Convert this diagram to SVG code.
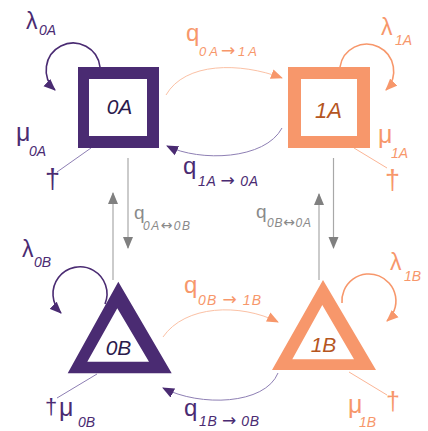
<svg xmlns="http://www.w3.org/2000/svg" width="428" height="431" viewBox="0 0 428 431">
<style>
text{font-family:"Liberation Sans",Arial,sans-serif}
.sub{font-style:italic}
.arr{font-family:"DejaVu Sans",sans-serif;font-style:normal;font-size:17px}
.arr2{font-family:"DejaVu Sans",sans-serif;font-style:normal;font-size:14px}
.node{font-style:italic;text-anchor:middle}
.pu{fill:#4a2b72}
.or{fill:#f7976b}
.gr{fill:#8a8a8a}
.loopP{fill:none;stroke:#4a2b72;stroke-width:1.6}
.loopO{fill:none;stroke:#f7976b;stroke-width:1.6}
.edgeP{fill:none;stroke:#8e7fb4;stroke-width:1}
.edgeO{fill:none;stroke:#fbc1a5;stroke-width:1}
.vert{fill:none;stroke:#a8a8a8;stroke-width:1.2}
.deathP{stroke:#8e7fb4;stroke-width:1}
.deathO{stroke:#fbb596;stroke-width:1}
</style>
<defs>
<marker id="aP" markerUnits="userSpaceOnUse" markerWidth="12" markerHeight="11" viewBox="0 0 12 10" refX="11" refY="5" orient="auto"><path d="M0,0 L12,5 L0,10 z" fill="#4a2b72"/></marker>
<marker id="aO" markerUnits="userSpaceOnUse" markerWidth="12" markerHeight="11" viewBox="0 0 12 10" refX="11" refY="5" orient="auto"><path d="M0,0 L12,5 L0,10 z" fill="#f7976b"/></marker>
<marker id="aG" markerUnits="userSpaceOnUse" markerWidth="12" markerHeight="11" viewBox="0 0 12 10" refX="11" refY="5" orient="auto"><path d="M0,0 L12,5 L0,10 z" fill="#808080"/></marker>
</defs>

<g id="connectors">
<path class="edgeO" d="M166,95 C185,62 240,62 282,78" marker-end="url(#aO)"/>
<path class="edgeP" d="M282,128 C265,160 200,162 167,146" marker-end="url(#aP)"/>
<path class="edgeO" d="M163,337 C185,305 240,303 278,322" marker-end="url(#aO)"/>
<path class="edgeP" d="M278,373 C265,405 200,407 163,388" marker-end="url(#aP)"/>
<path class="vert" d="M128,158 L128,248" marker-end="url(#aG)"/>
<path class="vert" d="M113,280 L113,193" marker-end="url(#aG)"/>
<path class="vert" d="M333.5,158 L333.5,248" marker-end="url(#aG)"/>
<path class="vert" d="M319,280 L319,194" marker-end="url(#aG)"/>
<path class="loopP" d="M100,67 A27,27 0 1,0 55,90" marker-end="url(#aP)"/>
<path class="loopO" d="M340,67 A27,27 0 1,1 386,90" marker-end="url(#aO)"/>
<path class="loopP" d="M105,304 A27,27 0 1,0 61,313" marker-end="url(#aP)"/>
<path class="loopO" d="M342,303 A27,27 0 1,1 387,321" marker-end="url(#aO)"/>
<line class="deathP" x1="91" y1="148" x2="57" y2="172"/>
<line class="deathO" x1="354" y1="148" x2="387" y2="168"/>
<line class="deathP" x1="97" y1="374" x2="57" y2="398"/>
<line class="deathO" x1="349" y1="372" x2="387" y2="395"/>
</g>

<g id="labels">
<text class="or" x="186" y="41" font-size="24">q</text>
<text class="or sub" x="199" y="56" font-size="13" textLength="58" lengthAdjust="spacing">0A<tspan class="arr">→</tspan>1A</text>
<text class="pu" x="183" y="174" font-size="24">q</text>
<text class="pu sub" x="198" y="186" font-size="14" textLength="60" lengthAdjust="spacing">1A <tspan class="arr">→</tspan> 0A</text>
<text class="or" x="184" y="293" font-size="24">q</text>
<text class="or sub" x="198" y="305" font-size="14" textLength="63" lengthAdjust="spacing">0B <tspan class="arr">→</tspan> 1B</text>
<text class="pu" x="184" y="416" font-size="24">q</text>
<text class="pu sub" x="199" y="426" font-size="14" textLength="60" lengthAdjust="spacing">1B <tspan class="arr">→</tspan> 0B</text>
<text class="gr" x="134" y="219" font-size="19">q</text>
<text class="gr sub" x="143" y="230" font-size="12" textLength="47" lengthAdjust="spacing">0A<tspan class="arr2">↔</tspan>0B</text>
<text class="gr" x="256" y="218" font-size="19">q</text>
<text class="gr sub" x="267" y="227" font-size="12" textLength="44" lengthAdjust="spacing">0B<tspan class="arr2">↔</tspan>0A</text>
</g>

<g id="node-0A">
<path class="pu" fill-rule="evenodd" d="M78,67 H159 V148 H78 Z M89,79 V136 H147 V79 Z"/>
<text class="node" x="119.5" y="114" font-size="21" fill="#2b1a4c">0A</text>
<text class="pu" x="26" y="29" font-size="23">λ</text>
<text class="pu sub" x="39" y="35" font-size="14">0A</text>
<text class="pu" x="16" y="141" font-size="25">μ</text>
<text class="pu sub" x="29" y="156" font-size="14">0A</text>
<text class="pu" x="45" y="188" font-size="27">†</text>
</g>

<g id="node-1A">
<path class="or" fill-rule="evenodd" d="M288,67 H370 V148 H288 Z M301,79 V136 H357 V79 Z"/>
<text class="node" x="328.5" y="118" font-size="22" fill="#b5561f">1A</text>
<text class="or" x="381" y="35" font-size="23">λ</text>
<text class="or sub" x="395" y="45" font-size="14">1A</text>
<text class="or" x="378" y="143" font-size="25">μ</text>
<text class="or sub" x="391" y="158" font-size="14">1A</text>
<text class="or" x="385" y="189" font-size="27">†</text>
</g>

<g id="node-0B">
<path class="pu" fill-rule="evenodd" d="M118.3,281.7 L171.7,373.3 L67.7,373.3 Z M117.3,308.3 L87.3,361.7 L149,361.7 Z"/>
<text class="node" x="118.5" y="355" font-size="21" fill="#2b1a4c">0B</text>
<text class="pu" x="22" y="257" font-size="23">λ</text>
<text class="pu sub" x="34" y="267" font-size="14">0B</text>
<text class="pu" x="45" y="414" font-size="22">†</text>
<text class="pu" x="59" y="416" font-size="25">μ</text>
<text class="pu sub" x="78" y="427" font-size="14">0B</text>
</g>

<g id="node-1B">
<path class="or" fill-rule="evenodd" d="M323,280 L376,370 L272,370 Z M322.3,305 L292.3,359.3 L354,359.3 Z"/>
<text class="node" x="323.5" y="352" font-size="21" fill="#b5561f">1B</text>
<text class="or" x="390" y="270" font-size="23">λ</text>
<text class="or sub" x="404" y="281" font-size="14">1B</text>
<text class="or" x="348" y="413" font-size="25">μ</text>
<text class="or sub" x="359" y="427" font-size="14">1B</text>
<text class="or" x="386" y="410" font-size="25">†</text>
</g>
</svg>
